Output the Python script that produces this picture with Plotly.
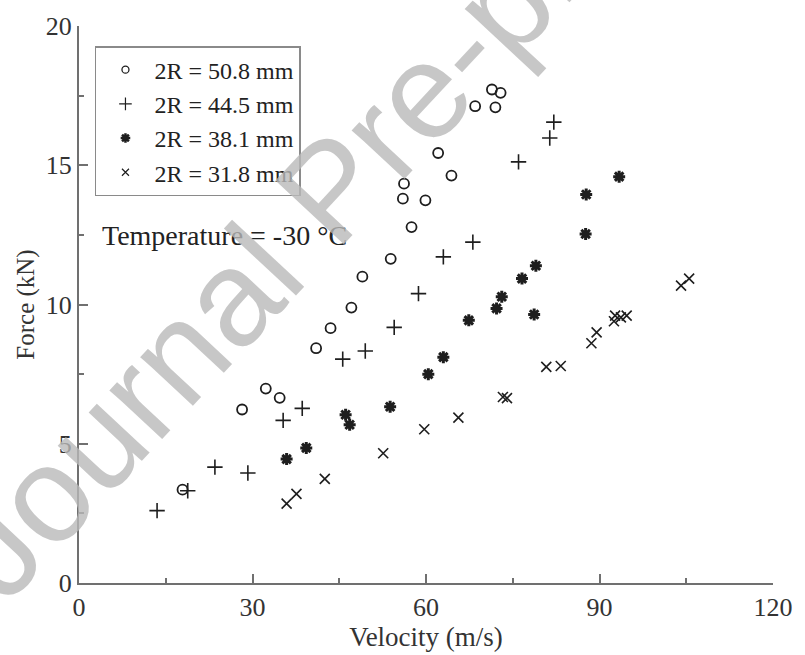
import plotly.graph_objects as go

# ---- data (velocity m/s, force kN) ----
names = ["2R = 50.8 mm", "2R = 44.5 mm", "2R = 38.1 mm", "2R = 31.8 mm"]

v_508 = [17.9, 28.2, 32.3, 34.7, 41.0, 43.5, 47.1, 49.0, 53.9, 56.2, 56.0, 57.5, 59.9, 62.1, 64.4, 68.5, 71.4, 72.9, 72.0]
f_508 = [3.35, 6.23, 6.98, 6.65, 8.43, 9.15, 9.89, 11.0, 11.64, 14.34, 13.8, 12.78, 13.74, 15.44, 14.63, 17.12, 17.72, 17.6, 17.08]

v_445 = [13.5, 18.8, 23.5, 29.2, 35.3, 38.6, 45.6, 49.5, 54.5, 58.7, 63.0, 68.1, 76.0, 81.4, 82.1]
f_445 = [2.6, 3.31, 4.16, 3.95, 5.84, 6.27, 8.04, 8.33, 9.18, 10.39, 11.71, 12.24, 15.12, 15.98, 16.55]

v_381 = [35.9, 39.3, 46.1, 46.8, 53.8, 60.4, 63.0, 67.4, 72.2, 73.1, 76.6, 79.0, 78.7, 87.6, 87.7, 93.4]
f_381 = [4.45, 4.85, 6.04, 5.68, 6.33, 7.5, 8.11, 9.43, 9.86, 10.28, 10.93, 11.39, 9.64, 12.53, 13.95, 14.59]

v_318 = [35.9, 37.6, 42.5, 52.6, 59.7, 65.6, 73.3, 74.0, 80.8, 83.3, 88.6, 89.5, 92.5, 92.7, 93.7, 94.7, 104.1, 105.5]
f_318 = [2.85, 3.2, 3.74, 4.66, 5.52, 5.94, 6.68, 6.64, 7.76, 7.79, 8.61, 9.0, 9.4, 9.6, 9.54, 9.6, 10.68, 10.93]

x_ticks = [0, 30, 60, 90, 120]
y_ticks = [0, 5, 10, 15, 20]

series = [
    (v_508, f_508, "circle-open", 10, 1.8, 7),
    (v_445, f_445, "cross-thin-open", 11, 1.6, 9),
    (v_381, f_381, "asterisk-open", 10, 3.0, 8),
    (v_318, f_318, "x-thin-open", 10, 1.6, 7),
]

INK = "#1e1e1e"
FONT = "Liberation Serif"

fig = go.Figure()
for (vx, fy, sym, sz, lw, lsz), nm in zip(series, names):
    fig.add_trace(go.Scatter(
        x=vx, y=fy, mode="markers", name=nm, showlegend=False,
        marker=dict(symbol=sym, size=sz, color=INK, line=dict(color=INK, width=lw)),
    ))
for (vx, fy, sym, sz, lw, lsz), nm in zip(series, names):
    fig.add_trace(go.Scatter(
        x=[None], y=[None], mode="markers", name=nm, legendgroup=nm,
        marker=dict(symbol=sym, size=lsz, color=INK, line=dict(color=INK, width=max(1.2, lw - 0.5))),
    ))

axis_common = dict(
    showline=True, linecolor="#707070", linewidth=2,
    ticks="inside", ticklen=9, tickwidth=1.5, tickcolor="#707070",
    showgrid=False, zeroline=False, mirror=False,
    tickfont=dict(family=FONT, size=26, color="#333333"),
)

fig.update_xaxes(
    range=[0, 120], tickvals=x_ticks, title_text="Velocity (m/s)", title_standoff=2,
    title_font=dict(family=FONT, size=27, color="#333333"),
    minor=dict(ticks="inside", dtick=15, ticklen=5, tickcolor="#707070", tickwidth=1.5),
    **axis_common,
)
fig.update_yaxes(
    range=[0, 20], tickvals=y_ticks, title_text="Force (kN)", title_standoff=4,
    title_font=dict(family=FONT, size=25, color="#333333"),
    minor=dict(ticks="inside", dtick=2.5, ticklen=5, tickcolor="#707070", tickwidth=1.5),
    **axis_common,
)

fig.add_annotation(
    x=0.030, y=0.623, xref="paper", yref="paper", xanchor="left", yanchor="middle",
    text="Temperature = -30 °C", showarrow=False,
    font=dict(family=FONT, size=28, color="#222222"),
)

# watermark
fig.add_annotation(
    x=0.362, y=0.705, xref="paper", yref="paper", xanchor="center", yanchor="middle",
    text="Journal Pre-proof", showarrow=False, textangle=-47,
    font=dict(family="Liberation Sans", size=136, color="rgba(185,185,185,0.8)"),
)

fig.update_layout(
    width=805, height=655,
    margin=dict(l=79, r=23, t=21, b=72),
    paper_bgcolor="white", plot_bgcolor="white",
    legend=dict(
        x=0.023, y=0.964, xanchor="left", yanchor="top",
        bordercolor="#8a8a8a", borderwidth=1.5, bgcolor="rgba(255,255,255,0)",
        font=dict(family=FONT, size=24, color="#222222"),
        itemwidth=48, tracegroupgap=0,
    ),
)

fig.write_html("out.html")
